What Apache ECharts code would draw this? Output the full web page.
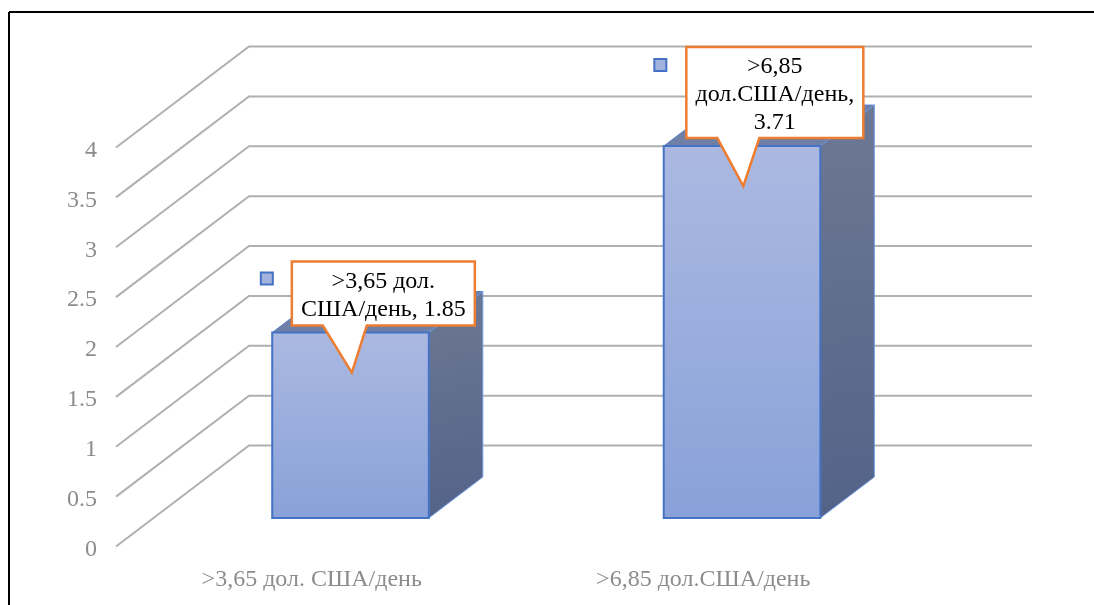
<!DOCTYPE html>
<html lang="ru" style="height: 100%">
<head>
  <meta charset="utf-8">
</head>
<body style="height: 100%; margin: 0; background: #fff">
  <div id="container" style="width: 1094px; height: 605px"></div>

  <script type="text/javascript" src="https://fastly.jsdelivr.net/npm/echarts@6/dist/echarts.min.js"></script>
  <script type="text/javascript">
    var categories = ['>3,65 дол. США/день', '>6,85 дол.США/день'];
    var values = [1.85, 3.71];
    var yTicks = [0, 0.5, 1, 1.5, 2, 2.5, 3, 3.5, 4];
    var calloutLabels = ['>3,65 дол.\nСША/день, 1.85', '>6,85\nдол.США/день,\n3.71'];

    // fake 3D: pixel shift from the front plane to the back wall
    var DEPTH_X = 133;
    var DEPTH_Y = -101;
    // bar sits between these fractions of the depth
    var BAR_NEAR = 0.29;
    var BAR_FAR = 0.696;
    var BAR_WIDTH = 0.4; // share of the category band
    var BAR_STRETCH = 1.005; // bars sit nearer the wall than the front plane, so they draw a bit taller
    var BAR_NUDGE_X = 0.2;
    var BAR_NUDGE_Y = 0.8;

    // callout boxes, offsets from the tip of the pointer
    var calloutBox = [
      { left: -60, right: 123, top: -111, bottom: -47, tailL: -29, tailR: 15, keyX: -85, keyY: -94 },
      { left: -57, right: 120, top: -139, bottom: -48, tailL: -26, tailR: 16, keyX: -83, keyY: -121 }
    ];

    var FONT = 'Liberation Serif';
    var dom = document.getElementById('container');
    var myChart = echarts.init(dom, null, { renderer: 'canvas' });

    function barTopY(top, base) {
      return base[1] - (base[1] - top[1]) * BAR_STRETCH + DEPTH_Y * BAR_NEAR + BAR_NUDGE_Y;
    }

    function renderGridLine(params, api) {
      var p = api.coord([0, api.value(1)]);
      var band = api.size([1, 0])[0];
      var x0 = p[0] - band / 2;
      var x1 = x0 + band * categories.length + DEPTH_X;
      return {
        type: 'polyline',
        silent: true,
        shape: { points: [[x0, p[1]], [x0 + DEPTH_X, p[1] + DEPTH_Y], [x1, p[1] + DEPTH_Y]] },
        style: { fill: null, stroke: '#b0b0b0', lineWidth: 2 }
      };
    }

    function renderBar(params, api) {
      var top = api.coord([api.value(0), api.value(1)]);
      var base = api.coord([api.value(0), 0]);
      var w = api.size([1, 0])[0] * BAR_WIDTH;
      var dx = DEPTH_X * BAR_NEAR + BAR_NUDGE_X;
      var sx = DEPTH_X * (BAR_FAR - BAR_NEAR);
      var sy = DEPTH_Y * (BAR_FAR - BAR_NEAR);
      var l = top[0] + dx - w / 2;
      var r = l + w;
      var t = barTopY(top, base);
      var b = base[1] + DEPTH_Y * BAR_NEAR + BAR_NUDGE_Y;
      return {
        type: 'group',
        children: [
          {
            type: 'polygon',
            shape: { points: [[l, t], [r, t], [r + sx, t + sy], [l + sx, t + sy]] },
            style: { fill: '#6f7fa6', stroke: '#5a7fd0', lineWidth: 1 }
          },
          {
            type: 'polygon',
            shape: { points: [[r, t], [r + sx, t + sy], [r + sx, b + sy], [r, b]] },
            style: {
              fill: {
                type: 'linear', x: 0, y: 0, x2: 0.6, y2: 1,
                colorStops: [{ offset: 0, color: '#6d7893' }, { offset: 1, color: '#536388' }]
              },
              stroke: '#6f9be8',
              lineWidth: 1
            }
          },
          {
            type: 'rect',
            shape: { x: l, y: t, width: w, height: b - t },
            style: {
              fill: {
                type: 'linear', x: 0, y: 0, x2: 0, y2: 1,
                colorStops: [{ offset: 0, color: '#abb9e1' }, { offset: 1, color: '#89a1d9' }]
              },
              stroke: '#4472c4',
              lineWidth: 2
            }
          }
        ]
      };
    }

    function renderCallout(params, api) {
      var i = params.dataIndex;
      var box = calloutBox[i];
      var top = api.coord([api.value(0), api.value(1)]);
      var base = api.coord([api.value(0), 0]);
      var tipX = top[0] + DEPTH_X * BAR_NEAR + 1.5;
      var tipY = barTopY(top, base) + 40;
      var pts = [
        [box.left, box.top], [box.right, box.top], [box.right, box.bottom],
        [box.tailR, box.bottom], [0, 0], [box.tailL, box.bottom], [box.left, box.bottom]
      ].map(function (p) { return [tipX + p[0], tipY + p[1]]; });
      return {
        type: 'group',
        children: [
          {
            type: 'rect',
            shape: { x: tipX + box.keyX - 6, y: tipY + box.keyY - 6, width: 12, height: 12 },
            style: { fill: '#a3b3de', stroke: '#4472c4', lineWidth: 2 }
          },
          {
            type: 'polygon',
            shape: { points: pts },
            style: { fill: '#fff', stroke: '#ed7d31', lineWidth: 2.5, lineJoin: 'miter' }
          },
          {
            type: 'text',
            style: {
              x: tipX + (box.left + box.right) / 2,
              y: tipY + (box.top + box.bottom) / 2 + 2,
              text: calloutLabels[i],
              align: 'center',
              verticalAlign: 'middle',
              fontFamily: FONT,
              fontSize: 24,
              lineHeight: 28,
              fill: '#000'
            }
          }
        ]
      };
    }

    var option = {
      animation: false,
      backgroundColor: '#fff',
      grid: { left: 116, width: 783, top: 147.5, height: 399 },
      xAxis: {
        type: 'category',
        data: categories,
        axisLine: { show: false },
        axisTick: { show: false },
        axisLabel: { interval: 0, fontFamily: FONT, fontSize: 24, color: '#8c8c8c', margin: 21 }
      },
      yAxis: {
        type: 'value',
        min: 0,
        max: 4,
        interval: 0.5,
        axisLine: { show: false },
        axisTick: { show: false },
        splitLine: { show: false },
        // top + short line box drops the digits onto the end of each grid line
        axisLabel: { fontFamily: FONT, fontSize: 24, color: '#8c8c8c', margin: 19, verticalAlign: 'top', lineHeight: 6 }
      },
      graphic: [
        { type: 'line', silent: true, shape: { x1: 9, y1: 12, x2: 1094, y2: 12 }, style: { stroke: '#000', lineWidth: 2 } },
        { type: 'line', silent: true, shape: { x1: 9, y1: 12, x2: 9, y2: 605 }, style: { stroke: '#000', lineWidth: 2 } }
      ],
      series: [
        {
          type: 'custom',
          renderItem: renderGridLine,
          clip: false,
          silent: true,
          z: 1,
          data: yTicks.map(function (v) { return [0, v]; })
        },
        {
          type: 'custom',
          renderItem: renderBar,
          clip: false,
          z: 2,
          data: values.map(function (v, i) { return [i, v]; })
        },
        {
          type: 'custom',
          renderItem: renderCallout,
          clip: false,
          z: 3,
          data: values.map(function (v, i) { return [i, v]; })
        }
      ]
    };

    myChart.setOption(option);
    window.addEventListener('resize', myChart.resize);
  </script>
</body>
</html>
